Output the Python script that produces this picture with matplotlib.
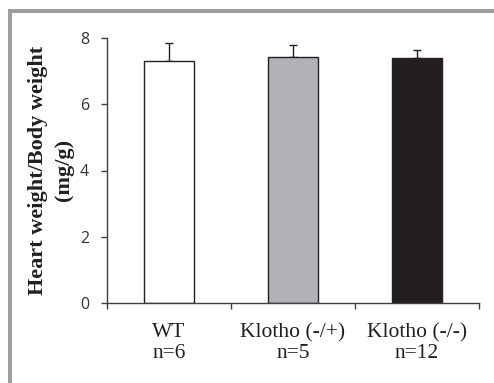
import matplotlib
matplotlib.use("Agg")
import matplotlib.pyplot as plt
from matplotlib.lines import Line2D

categories = ["WT\nn=6", "Klotho (-/+)\nn=5", "Klotho (-/-)\nn=12"]
means = [7.31, 7.43, 7.41]
errors = [0.53, 0.36, 0.22]
colors = ["#ffffff", "#b1b2b6", "#231f20"]
yticks = [0, 2, 4, 6, 8]

W, H = 494, 383
fig = plt.figure(figsize=(W / 100, H / 100), dpi=100)
ax = fig.add_axes([107 / W, 1 - 303 / H, (479 - 107) / W, (303 - 38) / H])

x = [i + 0.5 for i in range(len(categories))]
ax.bar(x, means, width=0.40, color=colors, edgecolor="#231f20", linewidth=1.0, zorder=2)
ax.errorbar(x, means, yerr=[[0] * len(errors), errors], fmt="none",
            ecolor="#231f20", elinewidth=1.0, capsize=3.2, capthick=1.0, zorder=1)

ax.set_xlim(0, 3)
ax.set_ylim(0, 8)
ax.set_yticks(yticks)
ax.set_yticklabels([str(t) for t in yticks], fontfamily="Open Sans", fontsize=11.5, color="#333333")
ax.set_xticks([0, 1, 2, 3])
ax.set_xticklabels([])
ax.tick_params(axis="both", direction="out", length=4, width=1.0, color="#404040")
ax.tick_params(axis="y", pad=9)
for s in ["top", "right"]:
    ax.spines[s].set_visible(False)
for s in ["left", "bottom"]:
    ax.spines[s].set_color("#404040")
    ax.spines[s].set_linewidth(1.0)

for xi, lab in zip(x, categories):
    ax.text(xi, -0.6, lab, ha="center", va="top", fontfamily="Liberation Serif",
            fontsize=15.5, linespacing=1.15, color="#231f20")

fig.text(51 / W, 1 - 170 / H, "Heart weight/Body weight\n(mg/g)", rotation=90,
         ha="center", va="center", fontfamily="Liberation Serif", fontweight="bold",
         fontsize=16, linespacing=1.4, multialignment="center", color="#231f20")

# gray frame
fig.add_artist(Line2D([8 / W, 1], [1 - 11 / H, 1 - 11 / H], transform=fig.transFigure,
                      color="#9e9e9e", linewidth=2.9, solid_capstyle="butt"))
fig.add_artist(Line2D([10 / W, 10 / W], [1 - 9 / H, 0], transform=fig.transFigure,
                      color="#9e9e9e", linewidth=2.9, solid_capstyle="butt"))

fig.savefig("out.png", dpi=100)
